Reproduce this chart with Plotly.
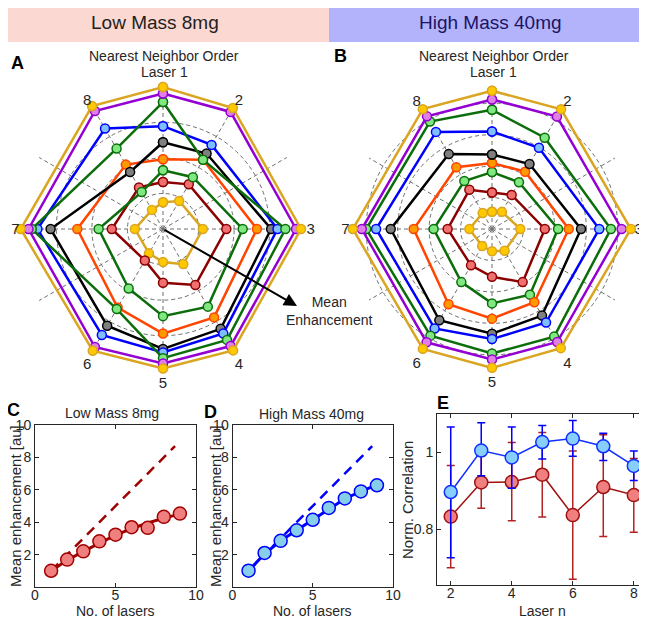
import plotly.graph_objects as go

W, H = 647, 620
OFF = 8  # page margin of the viewer: paper starts 8px in from the window corner
def px(x):
    return (x - OFF) / W
def py(y):
    return 1 - (y - OFF) / H

FONT = "Liberation Sans"
TXT = "#262626"
GRID = "#6e6e6e"

# ---------------- Radar data ----------------
axis_theta = [0, 30, 90, 150, 180, 210, 270, 330]
axis_label = ["", "2", "3", "4", "5", "6", "7", "8"]
spoke_theta = list(range(0, 360, 30))

# Panel A (Low Mass 8mg) - series from inner to outer
a_s1 = [0.75, 0.91, 1.12, 1.14, 0.93, 0.79, 0.79, 0.62]
a_s2 = [1.32, 1.45, 1.78, 1.82, 1.51, 1.02, 1.44, 1.35]
a_s3 = [1.65, 1.68, 2.24, 2.52, 2.45, 1.93, 1.81, 1.20]
a_s4 = [1.96, 2.25, 2.64, 2.87, 2.94, 2.55, 2.41, 2.09]
a_s5 = [2.44, 2.45, 3.04, 3.24, 3.37, 3.14, 3.16, 1.85]
a_s6 = [2.89, 2.73, 3.22, 3.39, 3.47, 3.44, 3.53, 3.26]
a_s7 = [3.57, 2.25, 3.44, 3.60, 3.63, 2.60, 3.69, 2.61]
a_s8 = [3.81, 3.80, 3.74, 3.80, 3.78, 3.83, 3.78, 3.83]
a_s9 = [3.99, 3.93, 3.88, 3.94, 3.92, 3.95, 4.00, 3.99]

# Panel B (High Mass 40mg)
b_s1 = [1.10, 1.26, 1.80, 1.60, 1.42, 1.25, 1.44, 1.18]
b_s2 = [2.32, 2.50, 3.36, 3.90, 3.04, 2.67, 2.82, 2.88]
b_s3 = [3.62, 3.43, 4.20, 4.82, 4.73, 3.90, 3.71, 3.52]
b_s4 = [4.20, 4.21, 4.88, 5.38, 5.70, 5.53, 4.98, 4.54]
b_s5 = [4.74, 4.77, 5.66, 6.36, 6.66, 6.70, 6.44, 5.50]
b_s6 = [6.20, 5.97, 6.82, 6.87, 7.00, 7.30, 7.37, 7.13]
b_s7 = [7.58, 6.70, 7.56, 7.90, 7.92, 7.83, 8.00, 7.89]
b_s8 = [8.24, 8.26, 8.24, 8.30, 8.30, 8.32, 8.28, 8.27]
b_s9 = [8.79, 8.79, 8.83, 8.75, 8.83, 8.80, 8.85, 8.80]

line_colors = ["#DAA520", "#8B0000", "#0B6E0B", "#FF4500", "#000000",
               "#0000FF", "#0B6E0B", "#9400D3", "#DAA520"]
fill_colors = ["#FFC800", "#F07070", "#80E880", "#FF9900", "#7F7F7F",
               "#7FBFFF", "#80E880", "#E07FE8", "#FFC800"]

# ---------------- Panel C / D data ----------------
n_lasers = [1, 2, 3, 4, 5, 6, 7, 8, 9]
c_mean = [1.0, 1.69, 2.2, 2.82, 3.23, 3.69, 3.65, 4.33, 4.53]
c_fit = [1.0, 1.65, 2.2, 2.7, 3.2, 3.6, 3.95, 4.25, 4.5]
d_mean = [1.01, 2.1, 2.85, 3.5, 4.15, 4.88, 5.47, 5.9, 6.28]
d_fit = [1.0, 2.05, 2.85, 3.5, 4.15, 4.85, 5.45, 5.9, 6.3]
ideal_x = [1, 8.7]
ideal_y = [1, 8.7]

# ---------------- Panel E data ----------------
laser_n = [2, 3, 4, 5, 6, 7, 8]
e_blue = [0.897, 1.005, 0.987, 1.027, 1.036, 1.016, 0.965]
e_blue_hi = [1.066, 1.077, 1.066, 1.070, 1.083, 1.050, 1.004]
e_blue_lo = [0.726, 0.939, 0.907, 0.983, 0.990, 0.979, 0.927]
e_red = [0.833, 0.922, 0.923, 0.942, 0.837, 0.910, 0.889]
e_red_hi = [0.966, 0.991, 1.026, 1.052, 1.004, 1.046, 0.984]
e_red_lo = [0.700, 0.855, 0.822, 0.832, 0.670, 0.781, 0.792]

fig = go.Figure()

def add_radar(series, subplot):
    for i, vals in enumerate(series):
        fig.add_trace(go.Scatterpolar(
            r=vals + [vals[0]], theta=axis_theta + [axis_theta[0]],
            mode="lines+markers", subplot=subplot, cliponaxis=False,
            line=dict(color=line_colors[i], width=2.5),
            marker=dict(size=9, color=fill_colors[i],
                        line=dict(color=line_colors[i], width=1.5)),
            showlegend=False, hoverinfo="skip"))

add_radar([a_s1, a_s2, a_s3, a_s4, a_s5, a_s6, a_s7, a_s8, a_s9], "polar")
add_radar([b_s1, b_s2, b_s3, b_s4, b_s5, b_s6, b_s7, b_s8, b_s9], "polar2")

lab_map = dict(zip(axis_theta, axis_label))
tick_text = [lab_map.get(t, "") for t in spoke_theta]

def polar_layout(dom_x, dom_y, rng, rticks):
    return dict(
        domain=dict(x=dom_x, y=dom_y), bgcolor="rgba(0,0,0,0)",
        radialaxis=dict(range=rng, tickvals=rticks, showticklabels=False,
                        ticks="", showline=False, gridcolor=GRID,
                        griddash="4px,3px", gridwidth=1),
        angularaxis=dict(rotation=90, direction="clockwise", tickmode="array",
                         tickvals=spoke_theta, ticktext=tick_text,
                         showline=False, ticks="", gridcolor=GRID,
                         griddash="4px,3px", gridwidth=1,
                         tickfont=dict(size=15, color=TXT, family=FONT)))

# ---------------- Panels C, D ----------------
red_dark = "#A00000"
blue = "#0000FF"
for xa, ya, mean, fit, lc, mc in [("x", "y", c_mean, c_fit, red_dark, "#F08080"),
                                   ("x2", "y2", d_mean, d_fit, blue, "#87CEEB")]:
    fig.add_trace(go.Scatter(x=ideal_x, y=ideal_y, mode="lines", xaxis=xa, yaxis=ya,
                             line=dict(color=lc, width=2.5, dash="10px,7px"),
                             showlegend=False, hoverinfo="skip"))
    fig.add_trace(go.Scatter(x=n_lasers, y=fit, mode="lines", xaxis=xa, yaxis=ya,
                             line=dict(color=lc, width=3),
                             showlegend=False, hoverinfo="skip"))
    fig.add_trace(go.Scatter(x=n_lasers, y=mean, mode="markers", xaxis=xa, yaxis=ya,
                             marker=dict(size=13, color=mc, line=dict(color=lc, width=1.5)),
                             showlegend=False, hoverinfo="skip"))

# ---------------- Panel E ----------------
for vals, hi, lo, lc, ec, mc in [(e_red, e_red_hi, e_red_lo, "#A01010", "#B22222", "#F08080"),
                                  (e_blue, e_blue_hi, e_blue_lo, "#1030FF", "#0000FF", "#87CEFA")]:
    fig.add_trace(go.Scatter(
        x=laser_n, y=vals, mode="lines+markers", xaxis="x3", yaxis="y3",
        line=dict(color=lc, width=1.5),
        marker=dict(size=13, color=mc, line=dict(color=lc, width=1.5)),
        error_y=dict(type="data", symmetric=False,
                     array=[h - v for h, v in zip(hi, vals)],
                     arrayminus=[v - l for v, l in zip(vals, lo)],
                     color=ec, thickness=1.5, width=4),
        showlegend=False, hoverinfo="skip"))

def cart_axis(dom, rng, tickvals, anchor, standoff=0):
    return dict(domain=dom, range=rng, tickvals=tickvals, anchor=anchor,
                ticks="inside", ticklen=4, tickcolor=TXT, showline=True,
                linecolor=TXT, linewidth=1, mirror="ticks", showgrid=False,
                zeroline=False, automargin=False, ticklabelstandoff=standoff,
                tickfont=dict(size=14, color=TXT, family=FONT))

plot_top, plot_bot = 425, 587
fig.update_layout(
    width=W, height=H, margin=dict(l=0, r=0, t=0, b=0, pad=0, autoexpand=False),
    paper_bgcolor="white", plot_bgcolor="white",
    font=dict(family=FONT, color=TXT),
    polar=polar_layout([px(20), px(306)], [py(372), py(86)], [0, 4.02], [1, 2, 3, 4]),
    polar2=polar_layout([px(350), px(634)], [py(371), py(87)], [0, 9.03], [2, 4, 6, 8, 9]),
    xaxis=cart_axis([px(35), px(196)], [0, 10], [0, 5, 10], "y", -5),
    yaxis=cart_axis([py(plot_bot), py(plot_top)], [0, 10], [2, 4, 6, 8, 10], "x"),
    xaxis2=cart_axis([px(232.5), px(393)], [0, 10], [0, 5, 10], "y2", -5),
    yaxis2=cart_axis([py(plot_bot), py(plot_top)], [0, 10], [2, 4, 6, 8, 10], "x2"),
    xaxis3=cart_axis([px(437), px(646)], [1.55, 8.4], [2, 4, 6, 8], "y3", -5),
    yaxis3=cart_axis([py(585), py(414)], [0.655, 1.1], [0.8, 1.0], "x3"),
)
fig.update_layout(yaxis3=dict(ticktext=["0.8", "1"]))

shapes = [
    dict(type="rect", xref="paper", yref="paper", x0=0, x1=px(329),
         y0=py(42), y1=py(8), fillcolor="#FCD8D2", line=dict(width=0), layer="below"),
    dict(type="rect", xref="paper", yref="paper", x0=px(329), x1=1,
         y0=py(42), y1=py(8), fillcolor="#B3B3FC", line=dict(width=0), layer="below"),
]
fig.update_layout(shapes=shapes)

def ann(x, y, text, size=14, color=TXT, angle=0, **kw):
    return dict(x=px(x), y=py(y), xref="paper", yref="paper", text=text,
                showarrow=False, textangle=angle, xanchor="center", yanchor="middle",
                font=dict(size=size, color=color, family=FONT), **kw)

annotations = [
    ann(155, 22, "Low Mass 8mg", size=19, color="#231F20"),
    ann(490, 22, "High Mass 40mg", size=19, color="#1B1464"),
    ann(164, 56, "Nearest Neighbor Order", size=14),
    ann(494, 56, "Nearest Neighbor Order", size=14),
    ann(164, 72, "Laser 1", size=14),
    ann(494, 72, "Laser 1", size=14),
    ann(17, 63, "<b>A</b>", size=18, color="black"),
    ann(340, 56, "<b>B</b>", size=18, color="black"),
    ann(13, 410, "<b>C</b>", size=18, color="black"),
    ann(210, 412, "<b>D</b>", size=18, color="black"),
    ann(443, 403, "<b>E</b>", size=18, color="black"),
    ann(112, 413, "Low Mass 8mg", size=14),
    ann(311, 414, "High Mass 40mg", size=14),
    ann(115, 611, "No. of lasers", size=14),
    ann(312, 611, "No. of lasers", size=14),
    ann(542, 611, "Laser n", size=14),
    ann(15, 506, "Mean enhancement [au]", size=15, angle=-90),
    ann(215, 506, "Mean enhancement [au]", size=15, angle=-90),
    ann(407, 500, "Norm. Correlation", size=15, angle=-90),
    ann(329, 311, "Mean<br>Enhancement", size=14),
    dict(x=px(297), y=py(306), xref="paper", yref="paper", text="",
         showarrow=True, ax=-134, ay=-77, axref="pixel", ayref="pixel",
         arrowhead=2, arrowsize=1.3, arrowwidth=2, arrowcolor="black"),
]
fig.update_layout(annotations=annotations)

fig.write_html("out.html")
